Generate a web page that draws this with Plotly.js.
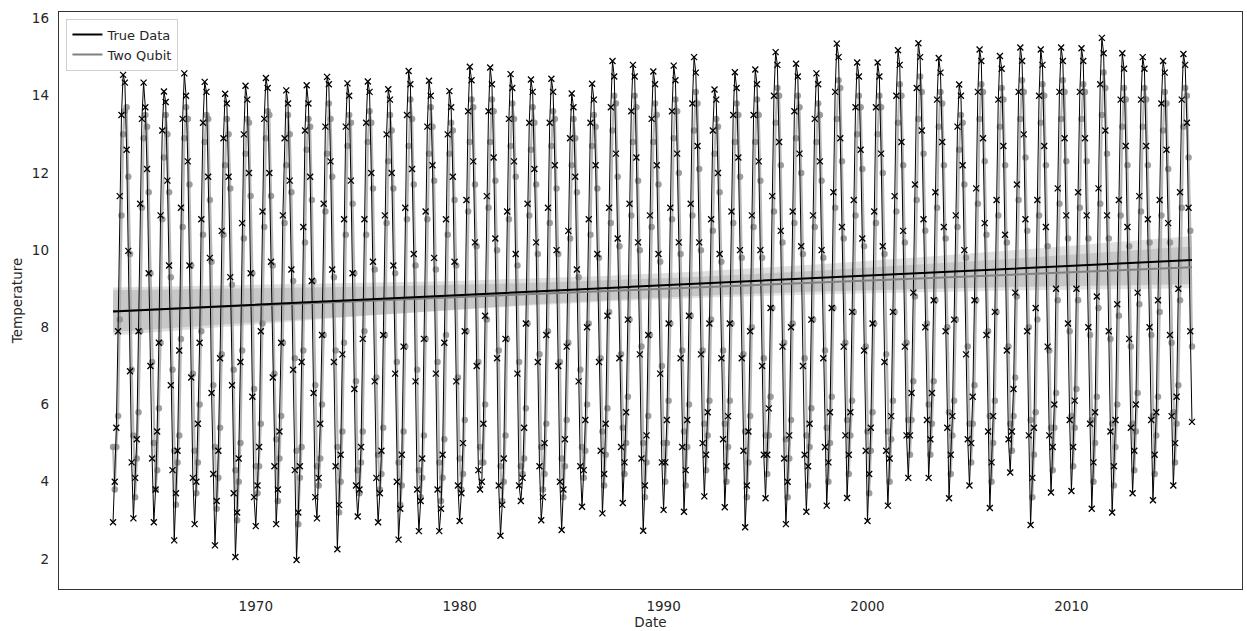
<!DOCTYPE html>
<html>
<head>
<meta charset="utf-8">
<script src="https://cdn.plot.ly/plotly-3.0.1.min.js"></script>
<style>html,body{margin:0;padding:0;background:#fff}#chart{width:1247px;height:631px}</style>
</head>
<body>
<div id="chart"></div>
<script>
// ---- data (monthly, Jan 1963 .. Dec 2015) ----
const startYear = 1963;
const endYear = 2015;
const xTickYears = [1970, 1980, 1990, 2000, 2010];
const yTicks = [2, 4, 6, 8, 10, 12, 14, 16];
const seriesNames = ['True Data', 'Two Qubit'];

const trueTemps = [
/*1963*/ 2.95,4.0,5.4,7.9,11.4,13.5,14.54,14.34,12.6,9.98,6.86,4.5,
/*1964*/ 3.05,4.1,5.1,7.9,11.2,13.4,14.34,13.7,12.1,9.4,7.0,4.6,
/*1965*/ 2.95,3.8,5.3,7.6,10.9,13.1,14.11,13.84,11.8,9.6,6.5,4.3,
/*1966*/ 2.48,3.7,4.8,7.4,11.1,13.4,14.58,14.0,12.3,9.6,6.7,4.1,
/*1967*/ 2.9,4.0,5.5,7.6,10.8,13.3,14.36,14.1,11.9,9.8,6.3,4.2,
/*1968*/ 2.35,3.5,4.8,7.2,10.5,12.9,14.05,13.8,11.9,9.3,6.5,3.7,
/*1969*/ 2.05,3.2,4.6,7.1,10.7,13.0,14.26,13.9,12.0,9.4,6.2,3.6,
/*1970*/ 2.85,3.9,4.9,7.9,11.0,13.4,14.46,14.2,12.0,9.7,6.7,4.4,
/*1971*/ 2.9,3.8,5.3,7.6,10.9,12.9,14.14,13.8,11.8,9.5,6.9,4.3,
/*1972*/ 1.97,3.2,4.4,7.1,10.6,13.1,14.27,13.8,11.9,9.2,6.3,3.6,
/*1973*/ 3.05,4.1,5.5,7.8,11.2,13.2,14.49,14.3,12.3,9.5,7.1,4.4,
/*1974*/ 2.25,3.4,4.7,7.3,10.8,13.2,14.32,14.0,11.8,9.4,6.4,3.9,
/*1975*/ 3.1,3.8,4.9,7.7,10.8,13.3,14.37,14.1,12.0,9.7,6.6,4.1,
/*1976*/ 2.95,3.7,4.8,7.8,10.9,13.0,14.17,13.9,12.0,9.6,6.8,4.0,
/*1977*/ 2.5,3.3,4.7,7.5,11.1,13.5,14.64,14.3,12.1,9.9,6.6,3.8,
/*1978*/ 2.72,3.5,4.6,7.7,11.0,13.2,14.39,14.0,12.2,9.8,6.8,3.8,
/*1979*/ 2.72,3.3,4.7,7.6,10.8,13.0,14.12,13.7,11.9,9.7,6.6,3.9,
/*1980*/ 2.98,3.7,5.0,7.9,11.3,13.6,14.75,14.4,12.3,10.2,7.0,4.3,
/*1981*/ 3.8,4.0,5.5,8.3,11.4,13.6,14.73,14.3,12.4,10.3,7.2,3.9,
/*1982*/ 2.6,3.4,4.6,7.7,11.0,13.4,14.56,14.2,12.3,9.9,6.8,3.9,
/*1983*/ 3.5,4.1,5.4,8.1,11.2,13.3,14.42,14.1,12.1,10.2,7.1,4.4,
/*1984*/ 3.0,3.6,5.0,7.8,11.1,13.3,14.44,14.1,12.2,10.0,7.0,4.0,
/*1985*/ 2.75,3.8,5.1,7.5,10.5,12.9,14.06,13.7,11.9,9.5,6.6,4.4,
/*1986*/ 3.35,4.3,5.6,8.0,10.8,13.3,14.31,13.9,12.2,9.9,7.1,4.8,
/*1987*/ 3.18,4.2,5.5,8.3,11.1,13.7,14.9,14.5,12.5,10.3,7.2,4.9,
/*1988*/ 3.45,4.5,5.8,8.2,11.2,13.6,14.8,14.5,12.4,10.2,7.3,4.6,
/*1989*/ 2.73,3.9,5.2,7.8,10.9,13.4,14.63,14.3,12.2,9.9,6.8,4.5,
/*1990*/ 3.27,4.5,5.6,8.1,11.1,13.6,14.78,14.4,12.5,10.2,7.2,4.9,
/*1991*/ 3.22,4.3,5.6,8.3,11.2,13.8,15.0,14.6,12.7,10.2,7.3,5.0,
/*1992*/ 3.62,4.7,5.8,8.1,10.8,13.1,14.16,13.9,12.0,9.9,7.2,5.1,
/*1993*/ 3.34,4.4,5.7,8.1,11.0,13.5,14.61,14.2,12.4,10.0,7.2,4.8,
/*1994*/ 2.82,3.9,5.3,7.9,10.9,13.5,14.68,14.3,12.3,10.0,7.0,4.7,
/*1995*/ 3.57,4.7,5.9,8.5,11.4,14.0,15.13,14.8,12.8,10.5,7.5,4.6,
/*1996*/ 2.9,4.0,5.2,8.0,11.0,13.6,14.83,14.5,12.5,10.1,7.0,4.7,
/*1997*/ 3.22,4.4,5.5,8.2,10.9,13.4,14.58,14.3,12.3,10.0,7.2,4.9,
/*1998*/ 3.38,4.5,5.8,8.5,11.5,14.1,15.35,15.0,12.9,10.6,7.5,5.2,
/*1999*/ 3.58,4.7,5.8,8.4,11.3,13.7,14.86,14.5,12.6,10.3,7.4,4.8,
/*2000*/ 2.98,4.2,5.4,8.1,11.0,13.7,14.86,14.5,12.5,10.1,7.1,4.8,
/*2001*/ 3.38,4.6,5.7,8.4,11.4,14.0,15.18,14.8,12.8,10.5,7.5,5.2,
/*2002*/ 4.1,5.2,6.3,8.9,11.7,14.2,15.36,15.0,13.1,10.8,8.0,5.6,
/*2003*/ 4.1,5.1,6.3,8.7,11.5,13.9,14.98,14.6,12.8,10.6,7.9,5.4,
/*2004*/ 3.57,4.7,5.7,8.2,10.9,13.2,14.29,14.0,12.2,10.0,7.3,5.1,
/*2005*/ 3.9,5.0,6.2,8.7,11.6,14.1,15.2,14.9,12.9,10.7,7.8,5.3,
/*2006*/ 3.32,4.5,5.7,8.4,11.3,13.9,15.03,14.7,12.7,10.4,7.4,5.1,
/*2007*/ 4.24,5.3,6.4,8.9,11.7,14.1,15.25,14.9,13.0,10.8,7.9,5.2,
/*2008*/ 2.88,4.1,5.4,8.5,11.3,14.0,15.2,14.8,12.7,10.6,7.5,5.2,
/*2009*/ 3.72,4.9,6.0,9.0,11.6,14.1,15.25,14.9,12.9,10.9,8.1,5.6,
/*2010*/ 3.76,4.9,6.1,9.0,11.5,14.1,15.23,14.9,12.9,10.9,8.0,5.5,
/*2011*/ 3.3,4.5,5.8,8.8,11.6,14.3,15.5,15.1,13.1,10.9,7.9,5.3,
/*2012*/ 3.2,4.4,5.6,8.6,11.3,13.9,15.1,14.7,12.7,10.6,7.7,5.4,
/*2013*/ 3.7,4.8,6.0,8.9,11.4,13.9,15.0,14.7,12.7,10.8,8.0,5.6,
/*2014*/ 3.52,4.7,5.8,8.7,11.3,13.8,14.9,14.6,12.6,10.7,7.8,5.7,
/*2015*/ 3.9,5.0,6.2,9.0,11.5,13.9,15.08,14.8,13.3,11.1,7.9,5.55
];

const qubitTemps = [
/*1963*/ 4.9,3.8,4.9,5.7,8.2,10.9,13.0,13.6,13.7,11.9,9.9,6.9,
/*1964*/ 5.2,3.6,4.6,5.8,7.9,11.1,12.9,13.5,13.2,11.5,9.4,7.1,
/*1965*/ 5.0,3.8,4.3,5.9,7.6,10.8,12.4,13.5,13.0,11.5,9.3,6.9,
/*1966*/ 4.8,3.4,4.5,5.2,7.7,10.6,12.9,13.7,13.4,11.7,9.6,6.8,
/*1967*/ 4.8,3.7,4.5,6.0,7.9,10.4,12.8,13.5,13.4,11.3,9.7,6.5,
/*1968*/ 4.9,3.3,4.1,5.4,7.3,10.4,12.2,13.4,13.0,11.6,9.1,6.9,
/*1969*/ 4.3,3.0,4.0,5.0,7.4,10.3,12.5,13.4,13.3,11.4,9.4,6.4,
/*1970*/ 4.4,3.7,4.4,5.5,8.1,10.6,12.9,13.6,13.5,11.4,9.6,6.8,
/*1971*/ 5.1,3.5,4.6,5.7,7.6,10.7,12.2,13.5,13.0,11.5,9.2,7.2,
/*1972*/ 4.8,2.9,4.1,4.9,7.4,10.2,12.6,13.4,13.2,11.3,9.2,6.5,
/*1973*/ 4.4,3.9,4.6,6.0,7.8,11.0,12.5,13.8,13.4,11.9,9.3,7.4,
/*1974*/ 4.9,3.2,4.0,5.3,7.6,10.4,12.7,13.5,13.3,11.2,9.4,6.6,
/*1975*/ 4.3,3.7,4.5,5.3,7.9,10.4,12.8,13.6,13.3,11.6,9.5,6.7,
/*1976*/ 4.7,3.8,4.2,5.4,7.8,10.7,12.3,13.5,13.1,11.6,9.4,7.1,
/*1977*/ 4.5,3.4,3.9,5.3,7.5,10.8,12.7,13.9,13.4,11.7,9.6,6.9,
/*1978*/ 4.3,3.6,4.1,5.2,7.7,10.8,12.5,13.7,13.2,11.8,9.5,7.1,
/*1979*/ 4.5,3.5,4.1,5.1,7.8,10.4,12.5,13.3,13.1,11.3,9.6,6.7,
/*1980*/ 4.6,3.8,4.2,5.6,7.9,11.0,12.8,13.9,13.7,11.7,10.1,7.1,
/*1981*/ 4.9,4.5,4.5,6.0,8.2,11.1,12.8,13.9,13.6,11.8,10.0,7.4,
/*1982*/ 4.4,3.5,4.0,5.2,7.7,10.8,12.7,13.8,13.4,11.9,9.6,7.1,
/*1983*/ 4.4,4.2,4.6,5.9,8.1,10.9,12.6,13.7,13.3,11.7,9.9,7.3,
/*1984*/ 4.9,3.8,4.2,5.5,7.9,10.7,12.7,13.6,13.4,11.6,9.9,7.1,
/*1985*/ 4.6,3.6,4.4,5.6,7.6,10.3,12.2,13.4,12.9,11.5,9.3,6.9,
/*1986*/ 4.9,4.1,4.8,6.0,8.1,10.4,12.7,13.5,13.2,11.6,9.8,7.2,
/*1987*/ 5.3,3.9,4.7,5.9,8.4,10.7,13.1,14.0,13.8,11.9,10.1,7.3,
/*1988*/ 5.4,4.2,5.0,6.2,8.2,10.9,12.8,14.0,13.7,11.8,10.0,7.5,
/*1989*/ 5.0,3.6,4.5,5.7,7.8,10.6,12.8,13.8,13.5,11.7,9.7,7.0,
/*1990*/ 5.0,4.0,5.0,6.1,8.1,10.8,12.9,13.9,13.6,12.0,9.9,7.4,
/*1991*/ 5.3,3.9,4.9,6.0,8.3,10.9,13.1,14.1,13.8,12.1,10.0,7.4,
/*1992*/ 5.5,4.3,5.2,6.1,8.2,10.5,12.5,13.4,13.2,11.5,9.7,7.4,
/*1993*/ 5.5,4.0,4.9,6.1,8.1,10.7,12.8,13.8,13.5,11.9,9.8,7.3,
/*1994*/ 5.3,3.6,4.5,5.7,8.0,10.6,12.8,13.9,13.5,11.8,9.8,7.2,
/*1995*/ 5.2,4.2,5.2,6.2,8.5,11.0,13.3,14.2,14.0,12.2,10.2,7.6,
/*1996*/ 5.1,3.6,4.6,5.6,8.1,10.7,12.9,14.0,13.7,12.0,9.9,7.2,
/*1997*/ 5.2,3.9,4.9,5.9,8.2,10.6,12.8,13.8,13.5,11.8,9.8,7.4,
/*1998*/ 5.4,4.0,5.0,6.2,8.5,11.1,13.4,14.4,14.2,12.3,10.3,7.6,
/*1999*/ 5.6,4.2,5.2,6.1,8.4,10.9,13.0,14.0,13.7,12.1,10.1,7.5,
/*2000*/ 5.3,3.7,4.8,5.8,8.1,10.7,13.0,14.0,13.7,12.0,9.9,7.3,
/*2001*/ 5.3,4.0,5.1,6.1,8.4,11.0,13.3,14.3,14.0,12.2,10.2,7.6,
/*2002*/ 5.6,4.7,5.6,6.6,8.8,11.3,13.4,14.5,14.1,12.5,10.5,8.1,
/*2003*/ 6.0,4.7,5.5,6.6,8.7,11.1,13.2,14.1,13.8,12.2,10.3,8.0,
/*2004*/ 5.8,4.2,5.2,6.1,8.2,10.6,12.6,13.5,13.3,11.7,9.8,7.5,
/*2005*/ 5.5,4.5,5.5,6.5,8.7,11.2,13.4,14.3,14.1,12.3,10.4,7.9,
/*2006*/ 5.7,4.0,5.0,6.1,8.4,10.9,13.2,14.2,13.9,12.2,10.2,7.5,
/*2007*/ 5.5,4.8,5.7,6.7,8.8,11.3,13.4,14.4,14.1,12.4,10.5,8.0,
/*2008*/ 5.6,3.6,4.7,5.8,8.2,10.9,13.3,14.3,14.0,12.2,10.1,7.4,
/*2009*/ 5.4,4.3,5.4,6.3,8.7,11.2,13.4,14.4,14.1,12.3,10.3,7.9,
/*2010*/ 5.7,4.4,5.4,6.4,8.7,11.1,13.4,14.3,14.1,12.3,10.3,7.8,
/*2011*/ 5.6,4.0,5.0,6.2,8.5,11.2,13.5,14.6,14.2,12.5,10.3,7.7,
/*2012*/ 5.5,3.9,4.9,6.0,8.3,10.9,13.2,14.2,13.9,12.2,10.1,7.5,
/*2013*/ 5.5,4.3,5.3,6.3,8.6,11.0,13.2,14.2,13.9,12.2,10.2,7.8,
/*2014*/ 5.7,4.2,5.2,6.2,8.4,10.9,13.1,14.1,13.8,12.1,10.2,7.6,
/*2015*/ 5.8,4.5,5.5,6.5,8.7,11.1,13.2,14.2,14.0,12.4,10.5,7.5
];

// ---- monthly date axis ----
const dates = [];
const tYears = [];
for (let y = startYear; y <= endYear; y++) {
  for (let m = 1; m <= 12; m++) {
    dates.push(y + '-' + String(m).padStart(2, '0') + '-01');
    tYears.push(y + (m - 1) / 12);
  }
}

// ---- linear regression with 95% confidence band (computed from the data) ----
function regress(t, v) {
  const n = v.length;
  let st = 0, sv = 0;
  for (let i = 0; i < n; i++) { st += t[i]; sv += v[i]; }
  const tb = st / n, vb = sv / n;
  let sxx = 0, sxy = 0;
  for (let i = 0; i < n; i++) { sxx += (t[i] - tb) ** 2; sxy += (t[i] - tb) * (v[i] - vb); }
  const b = sxy / sxx, a = vb - b * tb;
  let ss = 0;
  for (let i = 0; i < n; i++) ss += (v[i] - a - b * t[i]) ** 2;
  const s = Math.sqrt(ss / (n - 2));
  const fit = [], lo = [], hi = [];
  for (let i = 0; i < n; i++) {
    const f = a + b * t[i];
    const h = 1.96 * s * Math.sqrt(1 / n + (t[i] - tb) ** 2 / sxx);
    fit.push(f); lo.push(f - h); hi.push(f + h);
  }
  return { fit, lo, hi };
}

const rTrue = regress(tYears, trueTemps);
const rQubit = regress(tYears, qubitTemps);

function band(r, color) {
  return [
    { x: dates, y: r.hi, type: 'scatter', mode: 'lines', line: { width: 0 }, hoverinfo: 'skip', showlegend: false },
    { x: dates, y: r.lo, type: 'scatter', mode: 'lines', line: { width: 0 }, fill: 'tonexty', fillcolor: color, hoverinfo: 'skip', showlegend: false }
  ];
}

const traces = [
  ...band(rTrue, 'rgba(0,0,0,0.12)'),
  ...band(rQubit, 'rgba(0,0,0,0.11)'),
  { x: dates, y: qubitTemps, type: 'scatter', mode: 'lines+markers', name: seriesNames[1], showlegend: false,
    line: { color: 'rgba(165,165,165,0.8)', width: 2.2 },
    marker: { symbol: 'circle', size: 6.5, color: 'rgba(140,140,140,0.85)' } },
  { x: dates, y: trueTemps, type: 'scatter', mode: 'lines+markers', name: seriesNames[0], showlegend: false,
    line: { color: '#000000', width: 1 },
    marker: { symbol: 'x-thin', size: 6, line: { width: 1.3, color: '#000000' }, color: '#000000' } },
  { x: dates, y: rQubit.fit, type: 'scatter', mode: 'lines', name: seriesNames[1],
    line: { color: '#808080', width: 2 } },
  { x: dates, y: rTrue.fit, type: 'scatter', mode: 'lines', name: seriesNames[0],
    line: { color: '#000000', width: 2 } }
];

const layout = {
  width: 1247, height: 631,
  margin: { l: 59, r: 5, t: 12, b: 42 },
  paper_bgcolor: '#ffffff', plot_bgcolor: '#ffffff',
  font: { family: 'DejaVu Sans, sans-serif', size: 13.5, color: '#262626' },
  showlegend: true,
  legend: { x: 0.0063, y: 0.9886, xanchor: 'left', yanchor: 'top', bgcolor: 'rgba(255,255,255,0.85)',
            bordercolor: '#d0d0d0', borderwidth: 1, font: { size: 13 }, itemwidth: 30, tracegroupgap: 0,
            traceorder: 'reversed' },
  xaxis: {
    type: 'date', range: ['1960-05-08', '2018-05-15'],
    tickvals: xTickYears.map(y => y + '-01-01'), ticktext: xTickYears.map(String),
    showgrid: false, zeroline: false, showline: true, mirror: true, linecolor: '#333333', linewidth: 1.25,
    ticks: 'outside', ticklen: 5, tickcolor: 'rgba(0,0,0,0)',
    automargin: false,
    title: { text: 'Date', standoff: 4, font: { size: 13.5 } }
  },
  yaxis: {
    range: [1.22, 16.17], tickvals: yTicks,
    showgrid: false, zeroline: false, showline: true, mirror: true, linecolor: '#333333', linewidth: 1.25,
    ticks: 'outside', ticklen: 6, tickcolor: 'rgba(0,0,0,0)',
    automargin: false,
    title: { text: 'Temperature', standoff: 6, font: { size: 13.5 } }
  }
};

Plotly.newPlot('chart', traces, layout, { displayModeBar: false, staticPlot: true });
</script>
</body>
</html>
